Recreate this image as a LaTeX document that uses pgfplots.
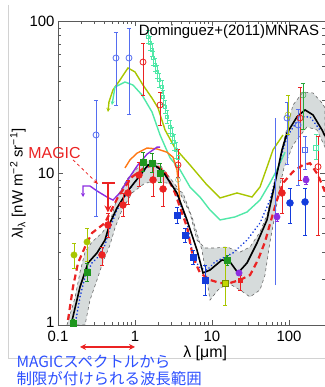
\documentclass[border=0pt]{standalone}
\usepackage{pgfplots}
\pgfplotsset{compat=1.18}
\usepackage{fontspec}
\setmainfont{Liberation Sans}
\newfontfamily\cjk{Noto Sans CJK JP}
\usetikzlibrary{arrows.meta}
\definecolor{blueobs}{RGB}{85,110,240}
\definecolor{bluefill}{RGB}{20,60,220}
\definecolor{redobs}{RGB}{235,35,35}
\definecolor{tealc}{RGB}{80,232,168}
\definecolor{olivec}{RGB}{168,198,0}
\definecolor{greenc}{RGB}{30,150,30}
\definecolor{purplec}{RGB}{140,45,225}
\definecolor{orangec}{RGB}{255,120,20}
\definecolor{bandc}{RGB}{214,219,219}
\definecolor{framec}{RGB}{90,90,90}
\definecolor{notec}{RGB}{45,80,255}
\begin{document}
\begin{tikzpicture}[x=1bp,y=1bp]
\path[use as bounding box] (0,0) rectangle (325,387);
\draw[gray!35, line width=0.6bp] (8,382) -- (8,29) -- (325,29);
\begin{axis}[
  at={(58bp,62bp)}, anchor=south west,
  scale only axis, width=267bp, height=304bp,
  xmode=log, ymode=log,
  xmin=0.1, xmax=293.5, ymin=1, ymax=100,
  xtick={0.1,1,10,100}, xticklabels={0.1,1,10,100},
  ytick={1,10,100}, yticklabels={\raisebox{5bp}{1},10,100},
  /pgf/number format/assume math mode=true,
  tick label style={font=\fontsize{15}{15}\selectfont, text=black},
  xticklabel style={yshift=-3bp},
  tick align=inside,
  major tick length=5bp, minor tick length=3bp,
  tick style={framec, line width=0.6bp},
  axis line style={framec, line width=0.9bp},
  xlabel={λ [μm]},
  ylabel={λI\textsubscript{λ} [nW m\textsuperscript{−2} sr\textsuperscript{−1}]},
  label style={font=\fontsize{16}{16}\selectfont},
  xlabel style={at={(axis description cs:0.551,-0.092)}, anchor=center},
  ylabel style={at={(axis description cs:-0.150,0.465)}, anchor=center, font=\fontsize{15}{15}\selectfont},
  clip=false,
  error bars/error bar style={line width=0.9bp},
  error bars/error mark options={rotate=90, mark size=2.2bp, line width=0.9bp},
]
% uncertainty band
\addplot[fill=bandc, draw=gray!80!black, dashed, line width=0.6bp] coordinates {
(0.1309,1.0) (0.1663,1.51) (0.1932,2.23) (0.2244,3.02) (0.2765,3.52) (0.3726,4.03)
(0.4731,4.76) (0.6012,7.17) (0.8110,9.27) (1.233,11.6) (1.567,12.2) (2.114,11.3)
(3.508,8.09) (5.175,5.45) (6.383,3.62) (8.110,3.21) (10.94,3.21) (15.67,3.26)
(23.13,3.02) (31.19,3.26) (41.99,4.09) (51.75,5.29) (61.96,7.73) (71.96,10.5)
(86.10,16.5) (112.7,28.0) (152.1,34.1) (205.1,33.6) (268.5,28.9) (293.5,26.8)
(293.5,14.8) (231.2,19.2) (171.4,20.1) (112.7,15.3) (86.10,10.8) (76.38,8.34)
(65.77,5.29) (56.62,3.52) (48.76,2.13) (41.99,1.70) (31.19,1.53) (23.13,1.70)
(16.15,1.89) (11.97,1.70) (9.420,1.46) (8.610,1.98) (7.41,3.11) (5.662,4.91)
(4.199,7.39) (2.606,8.59) (1.820,8.73) (1.349,8.59) (0.9142,7.39) (0.6776,5.71)
(0.5494,4.35) (0.4731,3.36) (0.3839,2.60) (0.3210,1.98) (0.2605,1.46) (0.2244,1.0)
} -- cycle;
% olive model
\addplot[olivec, line width=1.4bp, {Stealth[length=4bp,width=4bp]}-] coordinates {
(0.4457,25.2) (0.4592,29.3) (0.5176,35.2) (0.6383,40.9) (0.8110,49.1) (1.0,46.2)
(1.271,37.9) (1.663,31.1) (1.991,26.8) (2.455,19.2) (3.306,14.6) (5.175,11.3)
(8.610,8.34) (12.70,6.85) (21.14,7.39) (33.06,6.95) (41.99,8.09) (51.75,10.9)
(61.96,14.2) (83.57,17.8)};
% teal model
\addplot[tealc, line width=1.4bp, {Stealth[length=4bp,width=4bp]}-] coordinates {
(0.5022,28.0) (0.5494,36.8) (0.7413,39.7) (0.9420,37.9) (1.233,32.6) (1.663,25.2)
(2.114,17.8) (2.851,12.6) (3.841,10.5) (5.175,8.09) (6.983,6.95) (9.420,5.71)
(12.70,4.91) (19.91,5.14) (28.51,5.54) (41.99,6.64) (56.62,8.59) (69.83,10.5)
(88.7,13.7)};
% orange
\addplot[orangec, line width=1.4bp] coordinates {
(0.7413,10.8) (0.8611,12.2) (1.062,13.5) (1.432,14.6) (1.932,14.4) (2.606,13.7)
(3.119,12.7) (3.508,10.5) (3.727,7.73) (3.841,6.16)};
% purple
\addplot[purplec, line width=1.4bp, {Stealth[length=4bp,width=4bp]}-] coordinates {
(0.2113,6.95) (0.2113,8.21) (0.2605,8.21) (0.3210,7.62) (0.4325,6.95) (0.5176,6.64)
(0.6383,7.39) (0.7870,8.86) (1.062,11.1) (1.432,13.3) (1.932,14.8) (2.114,14.8)};
% blue dotted model
\addplot[bluefill, line width=1.8bp, dash pattern=on 0.1bp off 3.5bp, line cap=round] coordinates {
(0.1663,1.0) (0.1932,1.53) (0.2244,2.07) (0.2765,2.56) (0.3307,2.80) (0.4074,3.36)
(0.4731,4.35) (0.5834,5.71) (0.7870,7.39) (1.094,9.27) (1.476,11.1) (2.114,10.8)
(3.306,7.73) (4.731,4.76) (5.662,2.80) (6.983,2.37) (8.610,2.30) (10.94,2.60)
(18.75,2.98) (28.51,3.62) (41.99,4.69) (56.62,6.64) (69.83,10.0) (83.57,14.2)
(94.2,17.3) (139.0,23.4) (187.5,23.4) (252.9,19.2)};
% red dashed model
\addplot[redobs, line width=2.2bp, dash pattern=on 6bp off 4bp] coordinates {
(0.1349,1.08) (0.1567,1.78) (0.1820,2.56) (0.2244,3.26) (0.2765,4.03) (0.4074,4.69)
(0.6012,6.95) (0.9142,9.42) (1.349,10.9) (1.820,11.3) (2.455,10.2) (3.306,7.39)
(4.731,4.41) (5.662,2.80) (6.983,2.20) (9.420,1.98) (12.70,1.89) (17.14,1.89)
(23.13,1.98) (31.19,2.13) (39.55,2.68) (48.76,3.52) (60.12,5.14) (69.83,6.64)
(83.57,8.59) (112.7,10.2) (152.1,11.3) (187.5,11.6) (238.2,9.70) (293.5,7.50)};
% black main model
\addplot[black, line width=1.6bp] coordinates {
(0.1476,1.0) (0.1932,1.78) (0.2454,2.56) (0.3210,2.98) (0.4074,3.62) (0.4731,4.69)
(0.5834,5.89) (0.7870,7.50) (1.094,9.27) (1.476,11.3) (1.82,11.2) (2.313,10.2)
(3.508,7.39) (4.731,4.91) (6.383,3.11) (7.640,2.20) (9.420,2.30) (13.49,2.68)
(17.14,2.60) (21.78,2.20) (28.51,2.56) (38.38,3.46) (51.75,4.91) (65.77,8.59)
(81.10,14.2) (94.2,18.3) (127.0,23.4) (161.5,26.0) (205.1,24.1) (268.5,19.2)
(293.5,17.5)};
% teal squares (upper data)
\addplot[tealc, only marks, mark=square, mark size=1.8bp, line width=0.8bp,
  error bars/.cd, y dir=both, y explicit relative] coordinates {
(1.476,78.5) +- (0,0.1) (1.567,71.6) +- (0,0.1) (1.663,64.5) +- (0,0.1)
(1.714,57.1) +- (0,0.1) (1.820,51.4) +- (0,0.1) (1.932,46.2) +- (0,0.1)
(2.052,40.9) +- (0,0.1) (2.244,36.8) +- (0,0.1) (2.313,31.6) +- (0,0.1)
(2.455,27.2) +- (0,0.1) (2.606,23.4) +- (0,0.1) (2.851,20.1) +- (0,0.1)
(3.023,17.8) +- (0,0.12) (3.210,16.0) +- (0,0.12) (3.408,14.2) +- (0,0.12)
(3.616,12.7) +- (0,0.12)};
\addplot[tealc!70!gray, only marks, mark=o, mark size=2.5bp] coordinates {(3.616,9.0)};
\addplot[tealc, only marks, mark=square, mark size=2.5bp, error bars/.cd, y dir=both, y explicit]
 coordinates {(224.4,14.6) += (0,3.2) -= (0,2.4)};
% blue open circles
\addplot[blueobs, only marks, mark=o, mark size=3bp, line width=0.8bp,
  error bars/.cd, y dir=both, y explicit] coordinates {
(0.3119,17.8) += (0,12.4) -= (0,12.66)
(0.5662,57.1) += (0,27.6) -= (0,29.1)
(0.8357,57.1) += (0,32.8) -= (0,33.0)
(94.2,23.0) += (0,5.9) -= (0,11.7)
(130.9,20.7) += (0,5.3) -= (0,12.4)};
\addplot[blueobs, line width=0.9bp] coordinates {(65.77,1.83) (65.77,23.0)};
\addplot[blueobs, only marks, mark=square, mark size=2.5bp,
  error bars/.cd, y dir=both, y explicit] coordinates {(161.5,14.2) += (0,3.1) -= (0,3.7)};
% red open circles
\addplot[redobs, only marks, mark=o, mark size=3bp, line width=0.8bp,
  error bars/.cd, y dir=both, y explicit] coordinates {
(1.271,53.7) += (0,17.9) -= (0,21.1)
(2.114,28.0) += (0,6.1) -= (0,7.3)
(3.616,11.3) += (0,2.9) -= (0,1.9)
(139.0,23.0) += (0,13.3) -= (0,14.0)
(238.2,11.0) += (0,6.3) -= (0,7.1)};
% olive / green open circles (far-IR)
\addplot[olivec, only marks, mark=o, mark size=3bp,
  error bars/.cd, y dir=both, y explicit] coordinates {(97.0,24.1) += (0,8.5) -= (0,6.3)};
\addplot[greenc!80!tealc, only marks, mark=o, mark size=3bp,
  error bars/.cd, y dir=both, y explicit] coordinates {(152.1,32.6) += (0,6.5) -= (0,13.4)};
% red filled circles
\addplot[redobs, only marks, mark=*, mark size=3.5bp,
  error bars/.cd, y dir=both, y explicit] coordinates {
(0.3726,2.89) += (0,0.37) -= (0,0.41)
(0.4457,4.55) += (0,0.9) -= (0,0.8)
(0.6983,6.16) += (0,1.2) -= (0,1.0)
(0.8110,7.39) += (0,1.5) -= (0,1.2)
(1.127,9.70) += (0,2.0) -= (0,1.6)
(1.714,9.00) += (0,2.5) -= (0,2.0)
(2.313,7.85) += (0,2.2) -= (0,1.8)
(81.10,7.39) += (0,1.88) -= (0,1.94)};
% green filled squares
\addplot[greenc, only marks, mark=square*, mark size=3bp,
  error bars/.cd, y dir=both, y explicit] coordinates {
(1.271,11.8) += (0,1.9) -= (0,1.6)
(1.663,11.6) += (0,1.8) -= (0,1.5)
(2.114,10.0) += (0,1.5) -= (0,1.3)
(0.2382,2.23) += (0,0.3) -= (0,0.3)
(0.1567,1.03) += (0,0.05) -= (0,0.02)
(15.67,2.68) += (0,0.2) -= (0,0.2)};
% olive filled circles
\addplot[olivec, only marks, mark=*, mark size=3.2bp,
  error bars/.cd, y dir=both, y explicit] coordinates {
(0.1614,2.89) += (0,0.57) -= (0,0.52)
(0.2382,3.52) += (0,0.83) -= (0,0.92)};
\addplot[olivec, only marks, mark=square*, mark size=3bp,
  mark options={fill=olivec!70!yellow, draw=olivec!70!black},
  error bars/.cd, y dir=both, y explicit] coordinates {(14.76,1.89) += (0,1.37) -= (0,0.54)};
% blue filled squares
\addplot[bluefill, only marks, mark=square*, mark size=3bp,
  error bars/.cd, y dir=both, y explicit] coordinates {
(3.508,5.29) += (0,0.6) -= (0,0.6)
(4.457,3.91) += (0,0.4) -= (0,0.4)
(5.662,2.80) += (0,0.3) -= (0,0.3)
(8.110,1.98) += (0,0.5) -= (0,0.41)};
% blue filled circles
\addplot[bluefill, only marks, mark=*, mark size=3.5bp,
  error bars/.cd, y dir=both, y explicit] coordinates {
(103.0,6.35) += (0,1.62) -= (0,1.66)
(161.5,6.45) += (0,1.52) -= (0,2.54)};
% purple filled circles
\addplot[purplec, only marks, mark=*, mark size=3.2bp,
  error bars/.cd, y dir=both, y explicit relative] coordinates {
(69.83,5.14) +- (0,0.06) (166.4,9.0) +- (0,0.06) (22.44,2.20) +- (0,0.04)};
% red small square in the dip
\addplot[redobs, only marks, mark=square*, mark size=2bp,
  error bars/.cd, y dir=both, y explicit] coordinates {(23.13,1.98) += (0,0.15) -= (0,0.28)};
% MAGIC upper limit
\addplot[redobs, line width=2.2bp] coordinates {(0.3726,8.59) (0.5494,8.59)};
\addplot[redobs, line width=2.2bp, -{Stealth[length=7bp,width=7bp]}] coordinates {(0.4457,8.59) (0.4457,5.5)};
% annotations
\node[redobs, font=\fontsize{16}{16}\selectfont] at (axis cs:0.0901,13.5) {MAGIC};
\draw[redobs, dashed, line width=0.8bp, -{Stealth[length=5bp,width=4bp]}] (axis cs:0.1567,12.2) -- (axis cs:0.3307,8.47);
\node[font=\fontsize{15}{15}\selectfont] at (axis cs:16.6,84.7) {Dominguez+(2011)MNRAS};
\draw[redobs, line width=2bp, {Stealth[length=6bp,width=6bp]}-{Stealth[length=6bp,width=6bp]}] (axis cs:0.1932,0.717) -- (axis cs:1.0,0.717);
\end{axis}
\node[anchor=west, text=notec, font=\cjk\fontsize{15.5}{15.5}\selectfont] at (13,25) {MAGICスペクトルから};
\node[anchor=west, text=notec, font=\cjk\fontsize{15.5}{15.5}\selectfont] at (13,8) {制限が付けられる波長範囲};
\end{tikzpicture}
\end{document}
